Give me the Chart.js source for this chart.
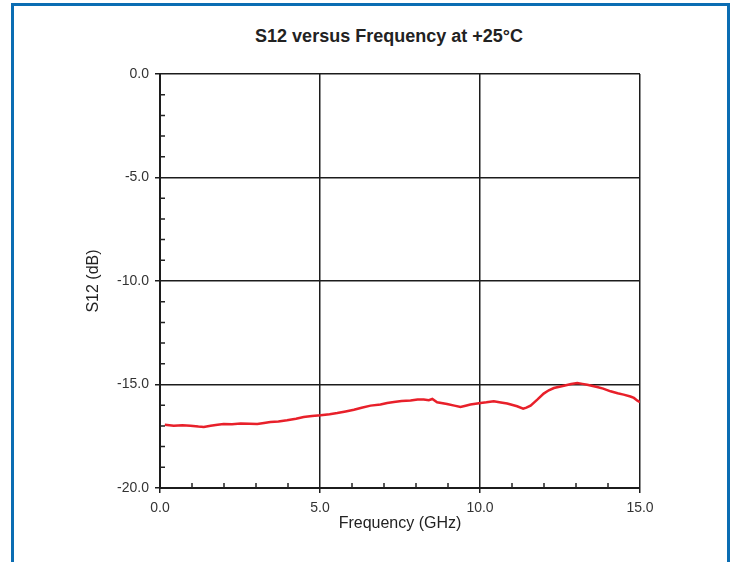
<!DOCTYPE html>
<html>
<head>
<meta charset="utf-8">
<script src="https://cdn.jsdelivr.net/npm/chart.js@4/dist/chart.umd.min.js"></script>
<style>
  html, body { margin: 0; padding: 0; background: #fff; overflow: hidden; }
  #wrap { position: relative; width: 734px; height: 562px; }
  #frame {
    position: absolute; left: 11px; top: 3px; width: 713px; height: 620px;
    border: 3px solid #0b6db3; border-bottom: none;
  }
  #title {
    position: absolute; left: 0; top: 25px; width: 778px; text-align: center;
    font: bold 18px "Liberation Sans", Arial, sans-serif; line-height: 22px; color: #222;
  }
  canvas { position: absolute; left: 0; top: 0; }
</style>
</head>
<body>
<div id="wrap">
  <div id="frame"></div>
  <div id="title">S12 versus Frequency at +25°C</div>
  <canvas id="s12Chart" width="734" height="562"></canvas>
</div>
<script>
const freqGHz = [
  0.15, 0.43, 0.7, 0.95, 1.2, 1.37, 1.58, 1.8, 1.99, 2.25, 2.52, 2.8, 3.04, 3.25, 3.45,
  3.7, 3.97, 4.25, 4.49, 4.75, 5.02, 5.3, 5.54, 5.8, 6.06, 6.3, 6.58, 6.89, 7.1, 7.31,
  7.55, 7.83, 8.05, 8.24, 8.4, 8.51, 8.66, 8.97, 9.2, 9.39, 9.55, 9.7, 10.02, 10.2, 10.43,
  10.65, 10.85, 11.16, 11.35, 11.45, 11.58, 11.79, 11.99, 12.15, 12.31, 12.62, 12.85, 13.04,
  13.2, 13.35, 13.66, 13.85, 14.08, 14.3, 14.49, 14.7, 14.81, 14.92, 15.0
];
const s12dB = [
  -16.94, -16.99, -16.97, -16.99, -17.03, -17.05, -16.99, -16.95, -16.91, -16.92, -16.89, -16.9, -16.91, -16.86, -16.81,
  -16.79, -16.73, -16.65, -16.57, -16.52, -16.49, -16.44, -16.38, -16.3, -16.22, -16.12, -16.02, -15.97, -15.89, -15.85,
  -15.8, -15.77, -15.72, -15.73, -15.76, -15.7, -15.86, -15.94, -16.02, -16.09, -16.03, -15.97, -15.89, -15.86, -15.81,
  -15.87, -15.92, -16.05, -16.17, -16.12, -16.02, -15.73, -15.44, -15.28, -15.17, -15.06, -14.98, -14.93,
  -14.97, -15.01, -15.12, -15.2, -15.33, -15.42, -15.49, -15.58, -15.65, -15.78, -15.85
];
const xRange = [0, 15];
const yRange = [-20, 0];
const majorStep = 5;

const fontFamily = '"Liberation Sans", Arial, sans-serif';
const isMajor = (v) => Math.abs(v % majorStep) < 1e-9;

// small inward ticks at every 1 unit between the major lines
const minorTicks = {
  id: "minorTicks",
  afterDraw(chart) {
    const { ctx, chartArea, scales } = chart;
    ctx.save();
    ctx.strokeStyle = "#222";
    ctx.lineWidth = 1.5;
    ctx.beginPath();
    scales.x.ticks.forEach((t) => {
      if (isMajor(t.value)) return;
      const px = scales.x.getPixelForValue(t.value);
      ctx.moveTo(px, chartArea.bottom);
      ctx.lineTo(px, chartArea.bottom - 5);
    });
    scales.y.ticks.forEach((t) => {
      if (isMajor(t.value)) return;
      const py = scales.y.getPixelForValue(t.value);
      ctx.moveTo(chartArea.left, py);
      ctx.lineTo(chartArea.left + 5, py);
    });
    ctx.stroke();
    ctx.restore();
  },
};

function initChart() {
  const ctx = document.getElementById("s12Chart").getContext("2d");

  const gridOpts = {
    color: (c) => (c.tick && isMajor(c.tick.value) ? "#1c1c1c" : "transparent"),
    tickColor: (c) => (c.tick && isMajor(c.tick.value) ? "#1c1c1c" : "transparent"),
    lineWidth: 1.5,
    tickLength: 5,
  };

  new Chart(ctx, {
    type: "scatter",
    data: {
      datasets: [
        {
          label: "S12",
          data: freqGHz.map((f, i) => ({ x: f, y: s12dB[i] })),
          showLine: true,
          borderColor: "#e8202a",
          borderWidth: 2.5,
          pointRadius: 0,
          tension: 0,
        },
      ],
    },
    options: {
      responsive: false,
      animation: false,
      layout: { padding: { top: 74, right: 94, bottom: 0, left: 0 } },
      plugins: {
        legend: { display: false },
        tooltip: { enabled: false },
      },
      scales: {
        x: {
          type: "linear",
          min: xRange[0],
          max: xRange[1],
          afterFit(scale) { scale.height = 74; },
          grid: gridOpts,
          border: { color: "#1c1c1c", width: 2 },
          ticks: {
            stepSize: 1,
            autoSkip: false,
            maxRotation: 0,
            padding: 7,
            color: "#333",
            font: { family: fontFamily, size: 14 },
            callback: (v) => (isMajor(v) ? v.toFixed(1) : ""),
          },
          title: {
            display: true,
            text: "Frequency (GHz)",
            color: "#222",
            font: { family: fontFamily, size: 16 },
            padding: { top: 0, bottom: 29 },
          },
        },
        y: {
          type: "linear",
          min: yRange[0],
          max: yRange[1],
          afterFit(scale) { scale.width = 160; },
          grid: gridOpts,
          border: { color: "#1c1c1c", width: 2 },
          ticks: {
            stepSize: 1,
            autoSkip: false,
            padding: 6,
            color: "#333",
            font: { family: fontFamily, size: 14 },
            callback: (v) => (isMajor(v) ? v.toFixed(1) : ""),
          },
          title: {
            display: true,
            text: "S12 (dB)",
            color: "#222",
            font: { family: fontFamily, size: 16 },
            padding: { top: 84, bottom: 0 },
          },
        },
      },
    },
    plugins: [minorTicks],
  });
}

document.addEventListener("DOMContentLoaded", initChart);
</script>
</body>
</html>
